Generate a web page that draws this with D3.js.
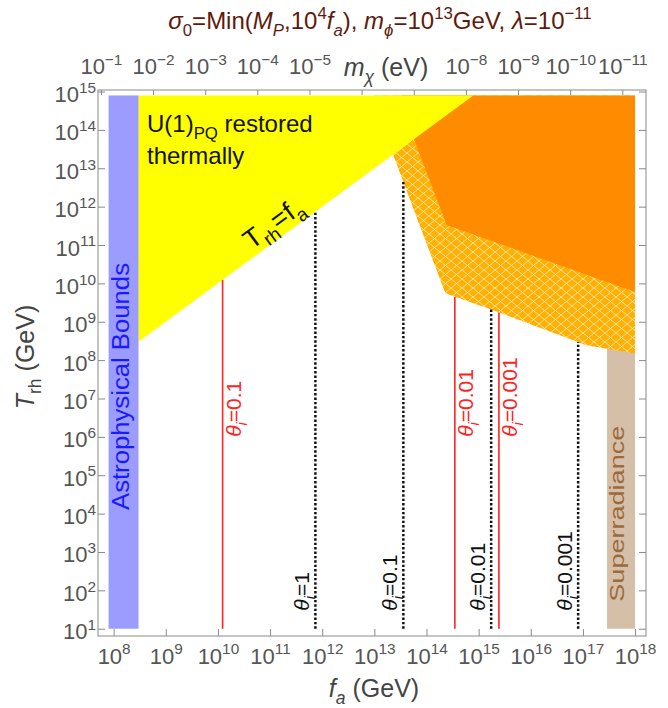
<!DOCTYPE html>
<html><head><meta charset="utf-8">
<script src="https://cdn.jsdelivr.net/npm/d3@7"></script>
<style>
html,body{margin:0;padding:0;background:#fff;}
svg{display:block;font-family:"Liberation Sans",Arial,sans-serif;}
</style></head>
<body>
<svg id="c" width="668" height="708"></svg>
<script>
// ---------------- data ----------------
const xExps = [8,9,10,11,12,13,14,15,16,17,18];           // f_a ticks (GeV)
const yExps = [1,2,3,4,5,6,7,8,9,10,11,12,13,14,15];      // T_rh ticks (GeV)
const mExps = [-1,-2,-3,-4,-5,-6,-7,-8,-9,-10,-11];       // m_chi ticks (eV)
const mLabelExps = [-1,-2,-3,-4,-5,-8,-9,-10,-11];
const massConst = 5.7e6; // m_chi[eV] = 5.7e6 / f_a[GeV]

const astroFa = [8e7, 3e8];      const astroT = [10, 7.9e14];
const superFa = [2.9e17, 1e18];  const superT = [10, 2.2e8];
const yellowPoly = [[3e8,3e8],[3e8,7.9e14],[7.9e14,7.9e14]];
const hatchPoly  = [[1e13,7.9e14],[1e18,7.9e14],[1e18,1.48e8],[1.17e17,2.45e8],[1.9e15,2.0e9],[2.3e14,5.5e9],[3.3e13,6.0e12],[2.3e13,2.3e13]];
const orangePoly = [[3.2e13,7.9e14],[1e18,7.9e14],[1e18,6.0e9],[2.45e14,3.3e11],[5.75e13,5.75e13]];

const redFa   = [1.23e10, 3.5e14, 2.45e15];
const redTop  = [1.23e10, 4.4e9, 1.74e9];
const redLab  = ["0.1","0.01","0.001"];
const blkFa   = [7.4e11, 3.6e13, 1.74e15, 8.1e16];
const blkTop  = [7.4e11, 4.8e12, 2.1e9, 2.95e8];
const blkLab  = ["1","0.1","0.01","0.001"];

// ---------------- layout ----------------
const L=98, R=646, T=90, B=636;
const x = d3.scaleLog().domain([10**7.70, 10**18.21]).range([L,R]);
const y = d3.scaleLog().domain([10**0.81, 10**15.04]).range([B,T]);
const xm = d3.scaleLog().domain([massConst/10**7.70, massConst/10**18.21]).range([L,R]);

const svg = d3.select("#c");
const FONT = '"Liberation Sans",Arial,sans-serif';

function rich(sel, parts, size){
  let shift = 0;
  parts.forEach(([t,type])=>{
    type = type||"";
    const sub = type.includes("sub"), sup = type.includes("sup");
    const target = sub ? 0.28*size : (sup ? -0.42*size : 0);
    const ts = sel.append("tspan").text(t)
      .attr("font-size", (sub||sup)? 0.7*size : size);
    if (target-shift !== 0) ts.attr("dy", target-shift);
    if (type.includes("i")) ts.attr("font-style","italic");
    shift = target;
  });
}

// defs: hatch pattern
const defs = svg.append("defs");
const pat = defs.append("pattern").attr("id","hatch").attr("patternUnits","userSpaceOnUse")
  .attr("width",11).attr("height",9);
pat.append("rect").attr("width",11).attr("height",9).attr("fill","#FFB000");
pat.append("path").attr("d","M0,0L11,9M0,9L11,0").attr("stroke","#FFE6B3").attr("stroke-width",0.9).attr("fill","none");

const line = d3.line().x(d=>x(d[0])).y(d=>y(d[1]));

// regions
svg.append("rect").attr("x",x(superFa[0])).attr("y",y(superT[1]))
  .attr("width",x(superFa[1])-x(superFa[0])).attr("height",y(superT[0])-y(superT[1]))
  .attr("fill","#D5BFA8");
svg.append("path").attr("d",line(hatchPoly)+"Z").attr("fill","url(#hatch)");
svg.append("path").attr("d",line(orangePoly)+"Z").attr("fill","#FF8C00");
svg.append("path").attr("d",line(yellowPoly)+"Z").attr("fill","#FFFF00");
svg.append("rect").attr("x",x(astroFa[0])).attr("y",y(astroT[1]))
  .attr("width",x(astroFa[1])-x(astroFa[0])).attr("height",y(astroT[0])-y(astroT[1]))
  .attr("fill","#9C9CFF");

// vertical lines
redFa.forEach((f,i)=>{
  svg.append("line").attr("x1",x(f)).attr("x2",x(f)).attr("y1",y(10)).attr("y2",y(redTop[i]))
    .attr("stroke","#FF2222").attr("stroke-width",1.6);
  const g = svg.append("g").attr("transform",`translate(${x(f)+18.5},${y(1e6)}) rotate(-90)`);
  const t = g.append("text").attr("fill","#FF2222");
  rich(t,[["θ","i"],["i","isub"],["="+redLab[i],""]],21);
});
blkFa.forEach((f,i)=>{
  svg.append("line").attr("x1",x(f)).attr("x2",x(f)).attr("y1",y(10)).attr("y2",y(blkTop[i]))
    .attr("stroke","#111").attr("stroke-width",2.5).attr("stroke-dasharray","2.4,2");
  const g = svg.append("g").attr("transform",`translate(${x(f)-6.5},${y(10)-18}) rotate(-90)`);
  const t = g.append("text").attr("fill","#111");
  rich(t,[["θ","i"],["i","isub"],["="+blkLab[i],""]],21);
});

// region labels
{
  const t1 = svg.append("text").attr("x",147).attr("y",132).attr("fill","#111");
  rich(t1,[["U(1)",""],["PQ","sub"],[" restored",""]],24);
  svg.append("text").attr("x",147).attr("y",164).attr("fill","#111").attr("font-size",24).text("thermally");
  const ang = Math.atan2(y(1e12)-y(1e11), x(1e12)-x(1e11))*180/Math.PI;
  const g = svg.append("g").attr("transform",`translate(${x(1e11)+3},${y(1e11)-22}) rotate(${ang})`);
  const t = g.append("text").attr("text-anchor","middle").attr("y",9).attr("fill","#111");
  rich(t,[["T",""],["rh","sub"],["=f",""],["a","sub"]],27);

  svg.append("g").attr("transform",`translate(128.5,510) rotate(-90)`)
    .append("text").attr("fill","#1A1AFF").attr("font-size",23)
    .attr("textLength",247).attr("lengthAdjust","spacingAndGlyphs").text("Astrophysical Bounds");
  svg.append("g").attr("transform",`translate(623.5,601.7) rotate(-90)`)
    .append("text").attr("fill","#9C6B3C").attr("font-size",21)
    .attr("textLength",176).attr("lengthAdjust","spacingAndGlyphs").text("Superradiance");
}

// frame
svg.append("rect").attr("x",L).attr("y",T).attr("width",R-L).attr("height",B-T)
  .attr("fill","none").attr("stroke","#8a8a8a").attr("stroke-width",1);

const tickCol = "#8a8a8a", labCol = "#555";
function styleAxis(g){
  g.select(".domain").remove();
  g.selectAll(".tick line").attr("stroke",tickCol);
  g.selectAll(".tick text").attr("fill",labCol).attr("font-family",FONT);
}

// bottom
const gx = svg.append("g").attr("transform",`translate(0,${B})`)
  .call(d3.axisBottom(x).tickValues(xExps.map(e=>10**e)).tickSize(-7).tickSizeOuter(0));
styleAxis(gx);
gx.selectAll(".tick text").each(function(d){
  const t = d3.select(this).text("").attr("dy",null).attr("y",27.5);
  rich(t,[["10",""],[String(Math.round(Math.log10(d))),"sup"]],22);
});
// left
const gy = svg.append("g").attr("transform",`translate(${L},0)`)
  .call(d3.axisLeft(y).tickValues(yExps.map(e=>10**e)).tickSize(-7).tickPadding(2).tickSizeOuter(0));
styleAxis(gy);
gy.selectAll(".tick text").each(function(d){
  const t = d3.select(this).text("").attr("dy",null).attr("y",10);
  rich(t,[["10",""],[String(Math.round(Math.log10(d))),"sup"]],22);
});
// right
const gr = svg.append("g").attr("transform",`translate(${R},0)`)
  .call(d3.axisRight(y).tickValues(yExps.map(e=>10**e)).tickSize(-7).tickSizeOuter(0).tickFormat(""));
styleAxis(gr);
// top (mass)
const gt = svg.append("g").attr("transform",`translate(0,${T})`)
  .call(d3.axisTop(xm).tickValues(mExps.map(e=>10**e)).tickSize(-5).tickSizeOuter(0));
styleAxis(gt);
gt.selectAll(".tick text").each(function(d){
  const e = Math.round(Math.log10(d));
  const t = d3.select(this).text("").attr("dy",null).attr("y",-16);
  if (mLabelExps.includes(e)) rich(t,[["10",""],["−"+String(-e),"sup"]],22);
});

// axis titles
{
  const tx = svg.append("text").attr("x",374).attr("y",697).attr("text-anchor","middle").attr("fill","#444");
  rich(tx,[["f","i"],["a","isub"],[" (GeV)",""]],25);
  const ty = svg.append("g").attr("transform","translate(34,357) rotate(-90)")
    .append("text").attr("text-anchor","middle").attr("fill","#444");
  rich(ty,[["T","i"],["rh","sub"],[" (GeV)",""]],25);
  const tm = svg.append("text").attr("x",386).attr("y",76).attr("text-anchor","middle").attr("fill","#444");
  rich(tm,[["m","i"],["χ","isub"],[" (eV)",""]],25);
  const tt = svg.append("text").attr("x",380).attr("y",29).attr("text-anchor","middle").attr("fill","#5E1A0C");
  rich(tt,[["σ","i"],["0","sub"],["=Min(",""],["M","i"],["P","isub"],[",10",""],["4","sup"],["f","i"],["a","isub"],
           ["), ",""],["m","i"],["ϕ","isub"],["=10",""],["13","sup"],["GeV, ",""],["λ","i"],["=10",""],["−11","sup"]],24);
}
</script>
</body></html>
